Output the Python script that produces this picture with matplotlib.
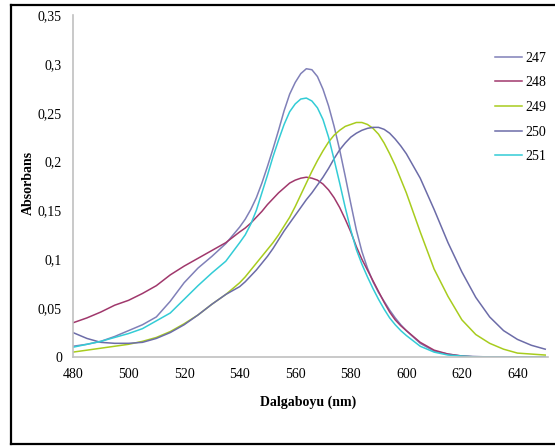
import matplotlib
matplotlib.use("Agg")
import matplotlib.pyplot as plt
from matplotlib.lines import Line2D

# Wavelength grid (nm): 5 nm steps on the flanks, 2 nm steps around the peaks
wavelength = (list(range(480, 541, 5)) + list(range(542, 601, 2))
              + list(range(605, 651, 5)))

# Absorbance
abs_247 = [0.011, 0.013, 0.016, 0.021, 0.027, 0.033, 0.041, 0.057, 0.076, 0.091,
           0.103, 0.116, 0.133,
           0.141, 0.151, 0.163, 0.178, 0.195, 0.213, 0.232, 0.252, 0.269, 0.281,
           0.290, 0.295, 0.294, 0.287, 0.274, 0.257, 0.236, 0.212, 0.185, 0.157,
           0.130, 0.108, 0.091, 0.077, 0.066, 0.057, 0.048, 0.040, 0.033, 0.027,
           0.014, 0.006, 0.003, 0.001, 0.0005, 0.0, 0.0, 0.0, 0.0, 0.0]
abs_248 = [0.035, 0.040, 0.046, 0.053, 0.058, 0.065, 0.073, 0.084, 0.093, 0.101,
           0.109, 0.117, 0.128,
           0.132, 0.137, 0.143, 0.149, 0.156, 0.162, 0.168, 0.173, 0.178, 0.181,
           0.183, 0.184, 0.183, 0.181, 0.177, 0.171, 0.163, 0.153, 0.141, 0.128,
           0.113, 0.100, 0.089, 0.078, 0.067, 0.056, 0.046, 0.038, 0.032, 0.027,
           0.015, 0.007, 0.003, 0.001, 0.0, 0.0, 0.0, 0.0, 0.0, 0.0]
abs_249 = [0.005, 0.007, 0.009, 0.011, 0.013, 0.016, 0.020, 0.026, 0.034, 0.043,
           0.054, 0.064, 0.076,
           0.082, 0.089, 0.096, 0.103, 0.110, 0.117, 0.125, 0.134, 0.143, 0.154,
           0.166, 0.178, 0.190, 0.201, 0.211, 0.220, 0.227, 0.232, 0.236, 0.238,
           0.240, 0.240, 0.238, 0.234, 0.228, 0.219, 0.208, 0.196, 0.182, 0.168,
           0.128, 0.090, 0.062, 0.038, 0.023, 0.014, 0.008, 0.004, 0.003, 0.002]
abs_250 = [0.025, 0.019, 0.015, 0.014, 0.014, 0.015, 0.019, 0.025, 0.033, 0.043,
           0.054, 0.064, 0.072,
           0.077, 0.083, 0.089, 0.096, 0.103, 0.111, 0.120, 0.129, 0.137, 0.145,
           0.153, 0.161, 0.168, 0.176, 0.184, 0.193, 0.203, 0.212, 0.219, 0.225,
           0.229, 0.232, 0.234, 0.235, 0.235, 0.233, 0.229, 0.223, 0.216, 0.208,
           0.183, 0.151, 0.117, 0.087, 0.061, 0.041, 0.027, 0.018, 0.012, 0.008]
abs_251 = [0.010, 0.013, 0.016, 0.020, 0.024, 0.029, 0.037, 0.045, 0.059, 0.073,
           0.086, 0.098, 0.117,
           0.125, 0.136, 0.150, 0.168, 0.186, 0.205, 0.222, 0.238, 0.251, 0.259,
           0.264, 0.265, 0.262, 0.255, 0.243, 0.225, 0.202, 0.178, 0.153, 0.130,
           0.110, 0.095, 0.082, 0.070, 0.059, 0.049, 0.040, 0.033, 0.027, 0.022,
           0.011, 0.005, 0.002, 0.001, 0.0, 0.0, 0.0, 0.0, 0.0, 0.0]

labels = ["247", "248", "249", "250", "251"]
series = [abs_247, abs_248, abs_249, abs_250, abs_251]
colors = ["#8080B8", "#A0386C", "#A8CC1E", "#6C6CA8", "#33CCD6"]

yticks = [0, 0.05, 0.1, 0.15, 0.2, 0.25, 0.3, 0.35]
xticks = [480, 500, 520, 540, 560, 580, 600, 620, 640]

plt.rcParams['font.family'] = ['Liberation Serif', 'DejaVu Serif']

fig = plt.figure(figsize=(5.55, 4.46), dpi=100)
ax = fig.add_axes([73/555, 1 - 357/446, 475/555, 342/446])

for lab, vals, col in zip(labels, series, colors):
    ax.plot(wavelength, vals, color=col, linewidth=1.1, label=lab)

ax.set_xlim(480, 651)
ax.set_ylim(0, 0.35)
ax.set_xticks(xticks)
ax.set_yticks(yticks)
ax.set_yticklabels([("%g" % v).replace(".", ",") for v in yticks])
ax.tick_params(length=0, labelsize=10, pad=8)

for s in ["top", "right"]:
    ax.spines[s].set_visible(False)
for s in ["left", "bottom"]:
    ax.spines[s].set_color("#C0C0C0")
    ax.spines[s].set_linewidth(1.2)

fig.text(28/555, 1 - 183/446, "Absorbans", rotation=90, ha="center", va="center",
         fontsize=10, fontweight="bold")
fig.text(308/555, 1 - 402/446, "Dalgaboyu (nm)", ha="center", va="center",
         fontsize=10, fontweight="bold")

leg = ax.legend(loc="upper left", bbox_to_anchor=(482/555, 1 - 39/446),
                bbox_transform=fig.transFigure, frameon=False, fontsize=10,
                handlelength=1.95, handletextpad=0.3, labelspacing=0.84)

# open frame around the chart (left, top, bottom)
fig.add_artist(Line2D([11/555, 11/555], [1 - 444/446, 1 - 5/446],
                      transform=fig.transFigure, color="black", linewidth=1.6))
fig.add_artist(Line2D([11/555, 1.0], [1 - 5/446, 1 - 5/446],
                      transform=fig.transFigure, color="black", linewidth=1.6))
fig.add_artist(Line2D([11/555, 1.0], [1 - 444/446, 1 - 444/446],
                      transform=fig.transFigure, color="black", linewidth=1.6))

fig.savefig("out.png", dpi=100)
